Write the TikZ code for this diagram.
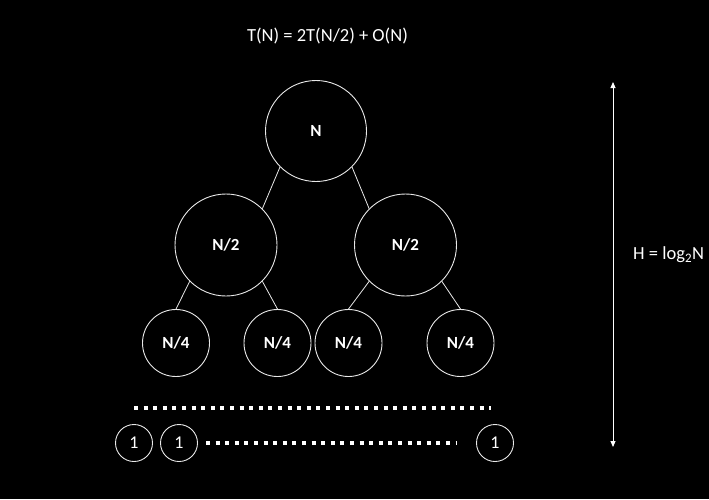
\documentclass[tikz,border=0pt]{standalone}
\usepackage{fontspec}
\setmainfont{Carlito}
\usepackage{tikz}
\usetikzlibrary{arrows.meta,positioning,backgrounds}
\definecolor{ink}{HTML}{000000}
\definecolor{chalk}{HTML}{FFFFFF}
\definecolor{wire}{HTML}{E8E8E8}
\tikzset{
  call/.style={circle,draw=wire,line width=0.9pt,text=chalk,inner sep=0pt,font=\fontsize{17}{20}\selectfont\bfseries},
  rootcall/.style={call,minimum size=101pt},
  halfcall/.style={call,minimum size=102pt},
  quartercall/.style={call,minimum size=67pt},
  leafcall/.style={call,minimum size=37pt,font=\fontsize{18}{20}\selectfont},
  branch/.style={draw=wire,line width=0.8pt},
  dotrow/.style={draw=chalk,line width=4pt,dash pattern=on 4pt off 5.6pt},
  span/.style={{Triangle[length=6pt,width=5pt]}-{Triangle[length=6pt,width=5pt]},draw=chalk,line width=0.9pt},
  lbl/.style={text=chalk,font=\fontsize{18.5}{21}\selectfont,inner sep=0pt},
}

\begin{document}
\begin{tikzpicture}[x=1pt,y=-1pt]
    \fill[ink] (0,0) rectangle (709,499);
    \node[lbl] (title) at (327.5,36) {T(N) = 2T(N/2) + O(N)};
    % recursion tree
    \node[rootcall] (n) at (316,131) {N};
    \node[halfcall] (h1) at (226,245) {N/2};
    \node[halfcall] (h2) at (405.5,245) {N/2};
    \node[quartercall] (q1) at (176,343) {N/4};
    \node[quartercall] (q2) at (277.5,343) {N/4};
    \node[quartercall] (q3) at (348.5,343) {N/4};
    \node[quartercall] (q4) at (460.5,343) {N/4};
    \node[leafcall] (l1) at (134,443) {1};
    \node[leafcall] (l2) at (179,443) {1};
    \node[leafcall] (l3) at (495,443) {1};
    \draw[branch] (n.south west) -- (h1.north east);
    \draw[branch] (n.south east) -- (h2.north west);
    \draw[branch] (h1.south west) -- (q1.north);
    \draw[branch] (h1.south east) -- (q2.north);
    \draw[branch] (h2.south west) -- (q3.north);
    \draw[branch] (h2.south east) -- (q4.north);
    % elided levels
    \coordinate (gapL) at (134,408);
    \coordinate (gapR) at (491,408);
    \coordinate (leafL) at (206,443);
    \coordinate (leafR) at (457,443);
    \draw[dotrow] (gapL) -- (gapR);
    \draw[dotrow] (leafL) -- (leafR);
    % height
    \coordinate (top) at (613,82);
    \coordinate (bot) at (613,447);
    \draw[span] (top) -- (bot);
    \node[lbl,anchor=west] (height) at (633,255) {H = log\textsubscript{2}N};
\end{tikzpicture}
\end{document}
